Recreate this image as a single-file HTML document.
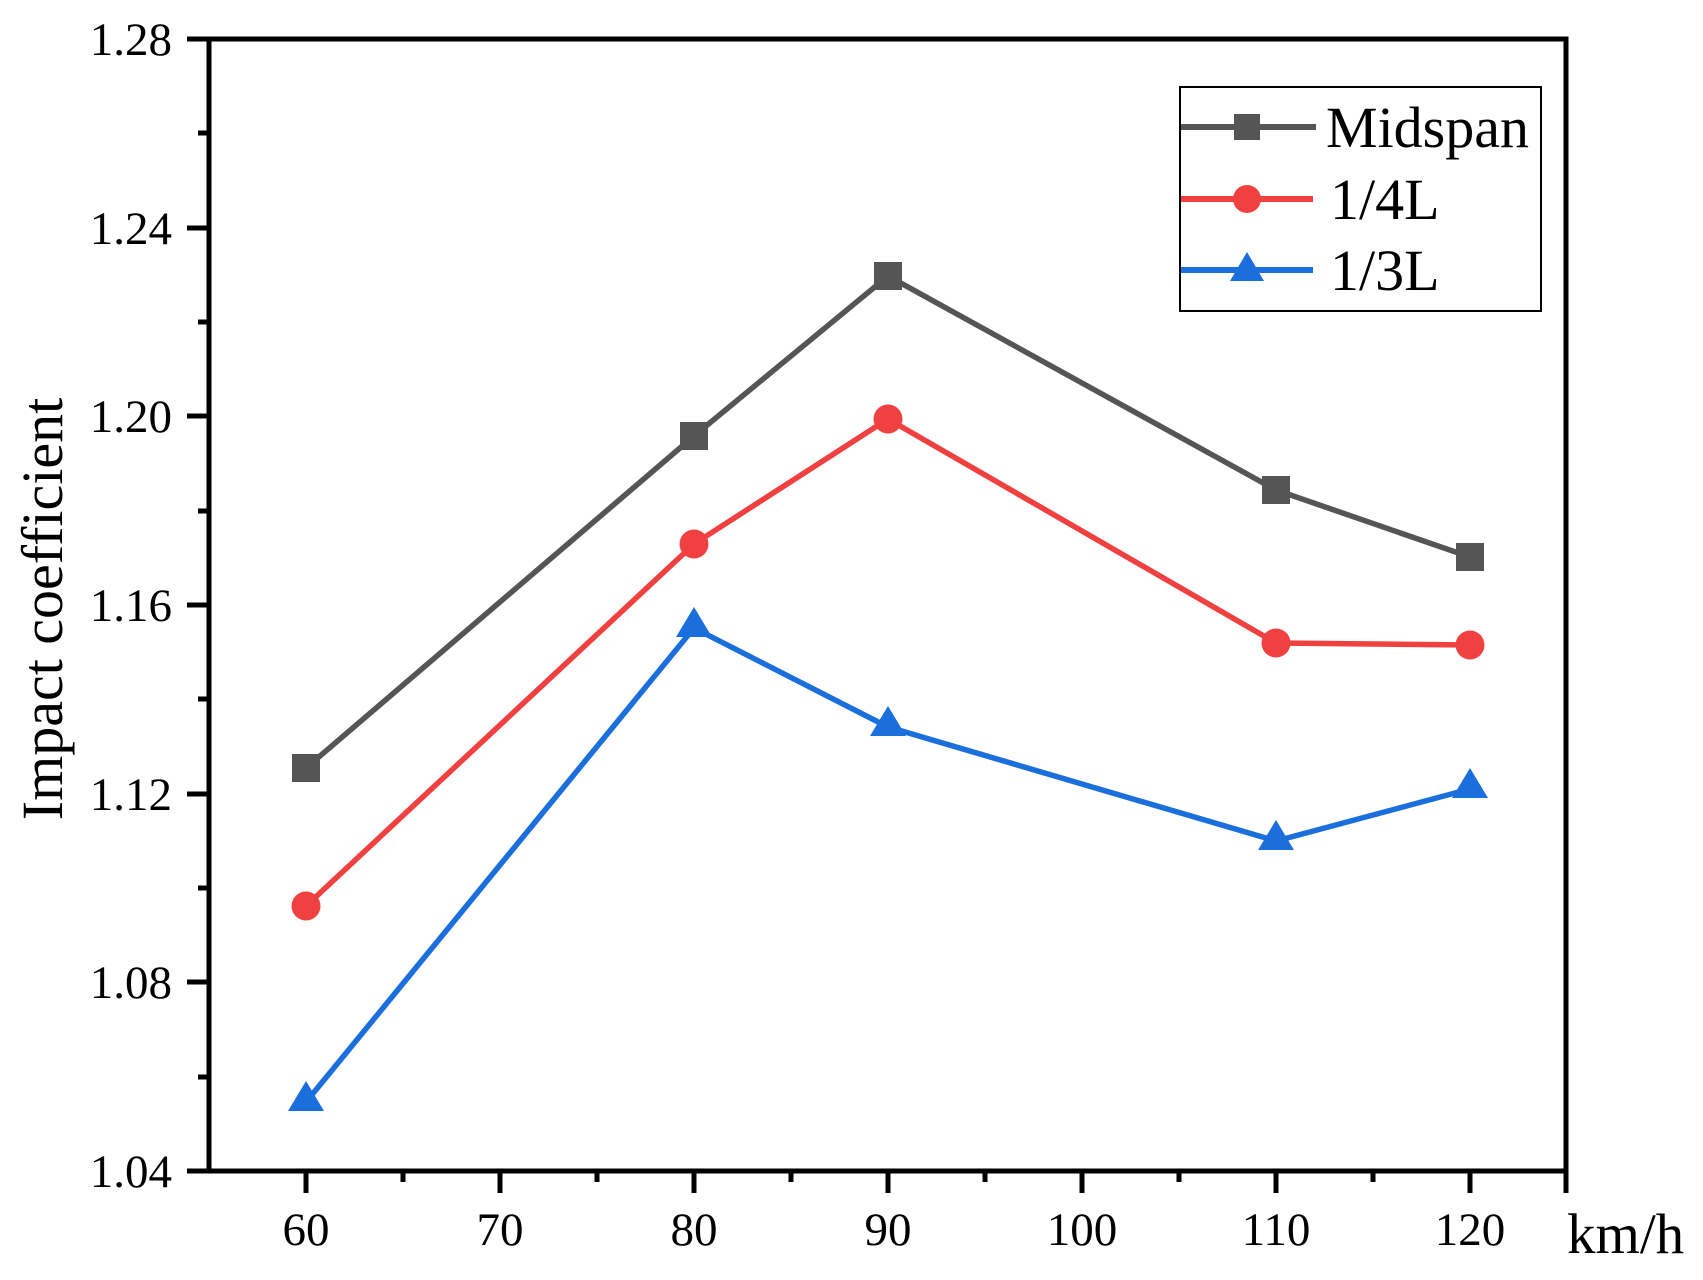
<!DOCTYPE html>
<html><head><meta charset="utf-8"><style>html,body{margin:0;padding:0;background:#fff}</style></head>
<body>
<svg width="1703" height="1275" viewBox="0 0 1703 1275" xmlns="http://www.w3.org/2000/svg" font-family="Liberation Serif, serif">
<rect width="1703" height="1275" fill="#fff"/>
<g stroke="#000" stroke-width="5" fill="none">
<rect x="209" y="39" width="1357" height="1132"/>
<path d="M187 39H209M187 228H209M187 416H209M187 605H209M187 794H209M187 982H209M187 1171H209"/>
<path d="M198 133H209M198 322H209M198 511H209M198 699H209M198 888H209M198 1077H209"/>
<path d="M306 1171V1193M500 1171V1193M694 1171V1193M888 1171V1193M1082 1171V1193M1276 1171V1193M1470 1171V1193M1566 1171V1193"/>
<path d="M403 1171V1182M597 1171V1182M791 1171V1182M985 1171V1182M1179 1171V1182M1373 1171V1182"/>
</g>
<g font-size="47" text-anchor="end" fill="#000">
<text x="172" y="55">1.28</text><text x="172" y="244">1.24</text><text x="172" y="432">1.20</text><text x="172" y="621">1.16</text><text x="172" y="810">1.12</text><text x="172" y="998">1.08</text><text x="172" y="1187">1.04</text>
</g>
<g font-size="47" text-anchor="middle" fill="#000">
<text x="306" y="1245">60</text><text x="500" y="1245">70</text><text x="694" y="1245">80</text><text x="888" y="1245">90</text><text x="1082" y="1245">100</text><text x="1276" y="1245">110</text><text x="1470" y="1245">120</text>
</g>
<text x="1567" y="1253" font-size="57" fill="#000">km/h</text>
<text transform="translate(62,609) rotate(-90)" font-size="58" text-anchor="middle" fill="#000">Impact coefficient</text>
<polyline points="306,768 694,436 888,276 1276,490 1470,557" fill="none" stroke="#555" stroke-width="5.5"/>
<g fill="#555"><rect x="292" y="754" width="28" height="28"/><rect x="680" y="422" width="28" height="28"/><rect x="874" y="262" width="28" height="28"/><rect x="1262" y="476" width="28" height="28"/><rect x="1456" y="543" width="28" height="28"/></g>
<polyline points="306,906 694,544 888,419 1276,643 1470,645" fill="none" stroke="#f04040" stroke-width="5.5"/>
<g fill="#f04040"><circle cx="306" cy="906" r="14.5"/><circle cx="694" cy="544" r="14.5"/><circle cx="888" cy="419" r="14.5"/><circle cx="1276" cy="643" r="14.5"/><circle cx="1470" cy="645" r="14.5"/></g>
<polyline points="306,1102 694,628 888,727 1276,841 1470,789" fill="none" stroke="#1a6fdc" stroke-width="5.5"/>
<g fill="#1a6fdc">
<polygon points="306,1081 288,1111 324,1111"/><polygon points="694,607 676,637 712,637"/><polygon points="888,706 870,736 906,736"/><polygon points="1276,820 1258,850 1294,850"/><polygon points="1470,768 1452,798 1488,798"/>
</g>
<rect x="1180" y="87" width="361" height="224" fill="#fff" stroke="#000" stroke-width="2"/>
<line x1="1181" y1="127" x2="1316" y2="127" stroke="#555" stroke-width="6"/>
<rect x="1234" y="114" width="26" height="26" fill="#555"/>
<line x1="1181" y1="199" x2="1313" y2="199" stroke="#f04040" stroke-width="6"/>
<circle cx="1247" cy="199" r="14" fill="#f04040"/>
<line x1="1181" y1="270" x2="1313" y2="270" stroke="#1a6fdc" stroke-width="6"/>
<polygon points="1247,252 1230,281 1264,281" fill="#1a6fdc"/>
<g font-size="58" fill="#000">
<text x="1326" y="147">Midspan</text><text x="1330" y="219">1/4L</text><text x="1330" y="290">1/3L</text>
</g>
</svg>
</body></html>
